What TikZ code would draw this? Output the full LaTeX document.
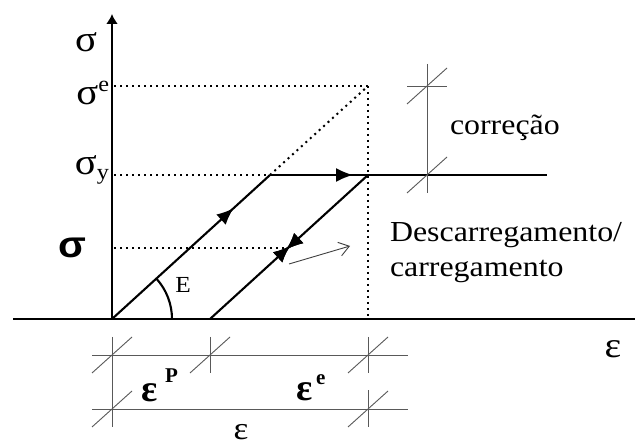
\documentclass[tikz,border=0pt]{standalone}
\usepackage{fontspec}
\usepackage{graphicx}
\setmainfont{Liberation Serif}
\newfontfamily\sansfam{Liberation Sans}
\usetikzlibrary{arrows.meta,decorations.markings}
\newcommand\txt[2]{{\fontsize{#1}{#1}\selectfont\scalebox{1.1}[1]{#2}}}
\tikzset{
  thick line/.style={line width=2.1pt},
  dots/.style={line width=2pt, dash pattern=on 2pt off 4pt},
  dimline/.style={line width=0.9pt, black!65},
  lbl/.style={inner sep=0pt, outer sep=0pt},
  midarrow/.style={postaction={decorate}, decoration={markings,
      mark=at position #1 with {\arrow{Latex[length=17pt,width=14pt]}}}},
  midarrowrev/.style={postaction={decorate}, decoration={markings,
      mark=at position #1 with {\arrowreversed{Latex[length=17pt,width=14pt]}}}}
}
\begin{document}
\begin{tikzpicture}[x=1pt,y=1pt]
\useasboundingbox (0,0) rectangle (635,445);
% key points
\coordinate (O) at (112,126);
\coordinate (Ytop) at (112,431);
\coordinate (Xl) at (13,126);
\coordinate (Xr) at (635,126);
\coordinate (A) at (270,270);
\coordinate (B) at (368,270);
\coordinate (C) at (368,359);
\coordinate (D) at (210,126);
\coordinate (P) at (288,197);
\coordinate (Hend) at (547,270);
\coordinate (Ae) at (114,359);
\coordinate (Ay) at (114,270);
\coordinate (As) at (114,197);
\coordinate (Bx) at (368,128);
\coordinate (T1) at (289,181);
\coordinate (T2) at (350,199);
% axes
\draw[thick line] (Xl) -- (Xr);
\draw[thick line, -{Latex[length=10pt,width=12pt]}] (O) -- (Ytop);
% dotted guides
\draw[dots] (Ae) -- (C);
\draw[dots] (Ay) -- (A);
\draw[dots] (As) -- (P);
\draw[dots] (A) -- (C);
\draw[dots] (C) -- (Bx);
% path lines
\draw[thick line, midarrow=0.77] (O) -- (A);
\draw[thick line, midarrow=0.30] (A) -- (Hend);
\draw[thick line, midarrow=0.508, midarrowrev=0.482] (D) -- (B);
% modulus arc
\draw[thick line] ([xshift=60pt]O) arc[start angle=0, end angle=42.3, radius=60pt];
% thin arrow
\draw[line width=0.9pt, black!75, -{Straight Barb[length=10pt,width=14pt]}] (T1) -- (T2);
% correction dimension
\coordinate (Cv1) at (427,381);
\coordinate (Cv2) at (427,252);
\coordinate (Ct1) at (407,359);
\coordinate (Ct2) at (447,359);
\draw[dimline] (Cv1) -- (Cv2);
\draw[dimline] (Ct1) -- (Ct2);
\draw[dimline] (407,341) -- (447,377);
\draw[dimline] (407,252) -- (447,288);
% bottom dimensions
\coordinate (L1a) at (92,90);
\coordinate (L1b) at (408,90);
\coordinate (L2a) at (92,36);
\coordinate (L2b) at (408,36);
\draw[dimline] (L1a) -- (L1b);
\draw[dimline] (L2a) -- (L2b);
\draw[dimline] (112,108) -- (112,18);
\draw[dimline] (210,108) -- (210,72);
\draw[dimline] (368,108) -- (368,72);
\draw[dimline] (368,55) -- (368,18);
\foreach \px/\py in {112/90,112/36,210/90,368/90,368/36}
  \draw[dimline] (\px-20,\py-18) -- (\px+20,\py+18);
% labels
\node[lbl, anchor=base] (sig) at (86,393) {\txt{37}{σ}};
\node[lbl, anchor=base east] (sige) at (109,340) {\txt{37}{σ\raisebox{13pt}{\fontsize{22}{22}\selectfont e}}};
\node[lbl, anchor=base east] (sigy) at (109,270) {\txt{37}{σ\raisebox{-5pt}{\fontsize{22}{22}\selectfont y}}};
\node[lbl, anchor=base] (sigL) at (72,187) {{\fontsize{37}{37}\selectfont\sansfam\bfseries\scalebox{1.1}[1]{σ}}};
\node[lbl, anchor=base] (E) at (183,152) {\txt{23}{E}};
\node[lbl, anchor=base west] (corr) at (450,310) {\txt{29}{correção}};
\node[lbl, anchor=base west] (desc) at (390,203) {{\fontsize{29}{35}\selectfont\scalebox{1.1}[1]{\begin{tabular}[t]{@{}l@{}}Descarregamento/\\carregamento\end{tabular}}}};
\node[lbl, anchor=base] (epsR) at (613,88) {\txt{36}{ε}};
\node[lbl, anchor=base west] (epsP) at (141,44) {{\fontsize{38}{38}\selectfont\bfseries ε\hspace{8pt}\raisebox{19pt}{\fontsize{21}{21}\selectfont P}}};
\node[lbl, anchor=base west] (epsE) at (296,45) {{\fontsize{38}{38}\selectfont\bfseries ε\hspace{4pt}\raisebox{16pt}{\fontsize{21}{21}\selectfont e}}};
\node[lbl, anchor=base] (epsT) at (241,6) {\txt{32}{ε}};
\end{tikzpicture}
\end{document}
